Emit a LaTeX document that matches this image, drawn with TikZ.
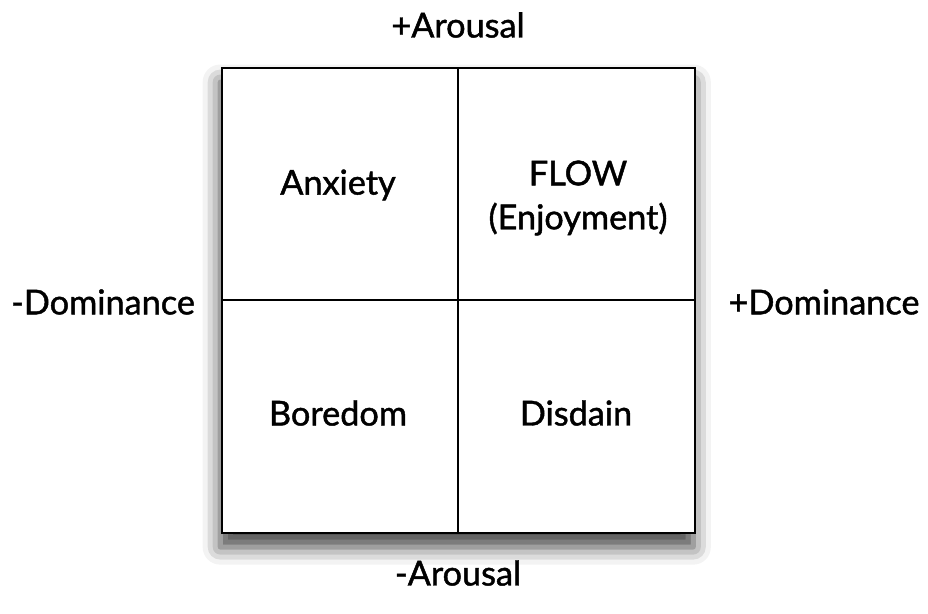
\documentclass[tikz,border=0pt]{standalone}
\usepackage{fontspec}
\newfontfamily\diafont{Lato}[FakeBold=1.3]
\usetikzlibrary{shadows.blur}

\begin{document}
\begin{tikzpicture}[x=0.02cm,y=-0.02cm]
  \tikzset{
    axislabel/.style={font=\diafont\fontsize{19.5}{23}\selectfont},
    quadlabel/.style={font=\diafont\fontsize{19.5}{23}\selectfont, align=center}
  }
  \useasboundingbox (0,0) rectangle (928,613);
  % grid with shadow
  \fill[white, blur shadow={shadow xshift=-1pt, shadow yshift=-8pt, shadow blur radius=10pt, shadow opacity=75}]
    (222,68) rectangle (695,533);
  \draw[line width=1.1pt] (458,68) -- (458,533);
  \draw[line width=1.1pt] (222,300) -- (695,300);
  \draw[line width=1.6pt] (222,68) rectangle (695,533);
  % quadrants
  \node[quadlabel] (anx) at (338,185) {Anxiety};
  \node[quadlabel] (flow) at (578,198) {FLOW\\[2pt](Enjoyment)};
  \node[quadlabel] (bor) at (338,413) {Boredom};
  \node[quadlabel] (dis) at (576,413) {Disdain};
  % axes
  \node[axislabel] (aplus) at (458,25) {+Arousal};
  \node[axislabel] (aminus) at (458,573) {-Arousal};
  \node[axislabel] (dminus) at (103,302) {-Dominance};
  \node[axislabel] (dplus) at (824,302) {+Dominance};
\end{tikzpicture}
\end{document}
